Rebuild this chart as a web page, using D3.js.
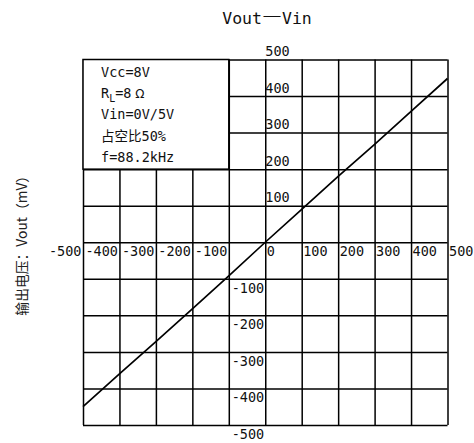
<!DOCTYPE html>
<html>
<head>
<meta charset="utf-8">
<script src="https://cdn.jsdelivr.net/npm/d3@7"></script>
<style>
body { margin:0; background:#fff; }
svg { display:block; }
.grid line { stroke:#000; stroke-width:1.5; }
.grid path { display:none; }
.lbl path { display:none; }
.lbl text { font-family:"DejaVu Sans Mono", monospace; font-size:13.5px; fill:#111; }
</style>
</head>
<body>
<div id="chart"></div>
<script>
const width = 474
const height = 443

const margin = { top:59.5, bottom:18, left:83, right:26.5 }

// data
const vin  = [-500,-400,-300,-200,-100,0,100,200,300,400,500]
const vout = [-450,-360,-272,-182,-92,0,90,180,268,358,448]
const ticks = [-500,-400,-300,-200,-100,0,100,200,300,400,500]
const infoLines = ["Vcc=8V","R|L|=8Ω","Vin=0V/5V","占空比50%","f=88.2kHz"]
const titleParts = ["Vout","―","Vin"]
const yTitle = "输出电压：Vout（mV）"

const svg = d3.select("div#chart").append("svg").attr("width",width).attr("height",height)

const x = d3.scaleLinear().domain([-500,500]).range([margin.left, width - margin.right])
const y = d3.scaleLinear().domain([-500,500]).range([height - margin.bottom, margin.top])

const plotW = x(500) - x(-500)
const plotH = y(-500) - y(500)

// grid
svg.append("g").attr("class","grid")
    .attr("transform",`translate(0,${y(-500)})`)
    .call(d3.axisBottom(x).tickValues(ticks).tickSize(-plotH).tickFormat(""))
svg.append("g").attr("class","grid")
    .attr("transform",`translate(${x(-500)},0)`)
    .call(d3.axisLeft(y).tickValues(ticks).tickSize(-plotW).tickFormat(""))

// info box
const box = svg.append("g")
box.append("rect")
    .attr("x",x(-500)).attr("y",y(500))
    .attr("width",x(-100)-x(-500)).attr("height",y(200)-y(500))
    .attr("fill","#fff").attr("stroke","#000").attr("stroke-width",1.5)

infoLines.forEach((s,i) => {
    const t = box.append("text")
        .attr("x",101).attr("y",77 + i*21.2)
        .attr("font-family","'DejaVu Sans Mono', 'Noto Sans CJK SC', monospace")
        .attr("font-size","13.5px")
        .attr("fill","#111")
    const parts = s.split("|")
    if (parts.length > 1) {
        t.append("tspan").text(parts[0])
        t.append("tspan").attr("font-size","10px").attr("dy",4).text(parts[1])
        t.append("tspan").attr("dy",-4).text(parts[2].replace("Ω",""))
        t.append("tspan").attr("font-family","'DejaVu Sans', sans-serif").attr("font-size","12px").text(" Ω")
    } else {
        t.text(s)
    }
})

// x labels along zero line
const xLbl = svg.append("g").attr("class","lbl")
    .attr("transform",`translate(0,${y(0)})`)
    .call(d3.axisBottom(x).tickValues(ticks).tickSize(0).tickFormat(d => d))
xLbl.selectAll("text")
    .attr("text-anchor", d => d < 0 ? "end" : "start")
    .attr("x", d => d < 0 ? -2 : 1)
    .attr("y", 1)
    .attr("dy","0.95em")

// y labels along zero line
const yLbl = svg.append("g").attr("class","lbl")
    .attr("transform",`translate(${x(0)},0)`)
    .call(d3.axisLeft(y).tickValues(ticks.filter(d => d != 0)).tickSize(0).tickFormat(d => d))
yLbl.selectAll("text")
    .attr("text-anchor", d => d < 0 ? "end" : "start")
    .attr("x", d => d < 0 ? -1 : 0)
    .attr("dy", d => d < 0 ? "1.0em" : "-0.3em")

// line
svg.append("path")
    .datum(vin.map((v,i) => [v, vout[i]]))
    .attr("fill","none").attr("stroke","#000").attr("stroke-width",1.7)
    .attr("d", d3.line().x(d => x(d[0])).y(d => y(d[1])))

// title
const title = svg.append("text")
    .attr("x",267).attr("y",24)
    .attr("text-anchor","middle")
    .attr("font-family","'DejaVu Sans Mono', monospace")
    .attr("font-size","16.5px")
    .attr("fill","#111")
title.append("tspan").text(titleParts[0])
title.append("tspan").attr("font-family","'Noto Sans CJK SC', sans-serif").attr("font-weight","bold").attr("font-size","20px").text(titleParts[1])
title.append("tspan").text(titleParts[2])

svg.append("text")
    .attr("transform",`translate(27,${y(0)}) rotate(-90)`)
    .attr("text-anchor","middle")
    .attr("font-family","'Noto Sans CJK SC', sans-serif")
    .attr("font-size","13.8px")
    .attr("fill","#222")
    .text(yTitle)
</script>
</body>
</html>
